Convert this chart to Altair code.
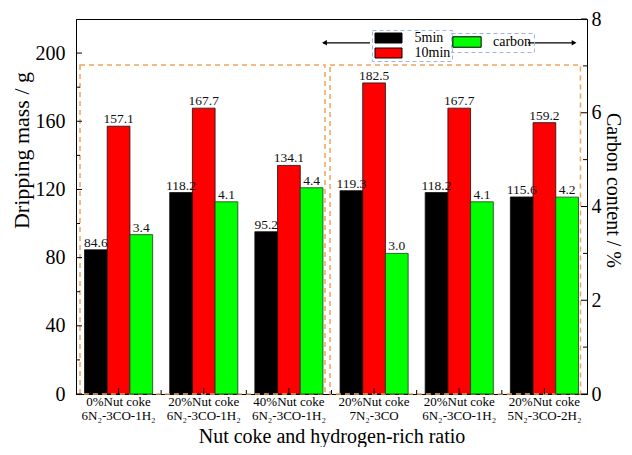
import altair as alt
import pandas as pd

# ---------------- data ----------------
groups = [0, 1, 2, 3, 4, 5]
label_line1 = ["0%Nut coke", "20%Nut coke", "40%Nut coke", "20%Nut coke", "20%Nut coke", "20%Nut coke"]
label_line2 = ["6N₂-3CO-1H₂", "6N₂-3CO-1H₂", "6N₂-3CO-1H₂", "7N₂-3CO", "6N₂-3CO-1H₂", "5N₂-3CO-2H₂"]
mass_5min = [84.6, 118.2, 95.2, 119.3, 118.2, 115.6]
mass_10min = [157.1, 167.7, 134.1, 182.5, 167.7, 159.2]
carbon = [3.4, 4.1, 4.4, 3.0, 4.1, 4.2]
series = ["5min", "10min", "carbon"]
colors = ["#000000", "#ff0000", "#00ff00"]
left_major = [0, 40, 80, 120, 160, 200]
left_minor = [20, 60, 100, 140, 180]
right_major = [0, 2, 4, 6, 8]
right_minor = [1, 3, 5, 7]
left_domain = [0, 220]
right_domain = [0, 8]
box_top = 193          # top of the dashed orange frames (left-axis units)
arrow_level = 206      # height of the legend arrows (left-axis units)

FONT = "Liberation Serif"
W, H = 511, 375

mass_df = pd.DataFrame({
    "g": groups * 2,
    "series": ["5min"] * 6 + ["10min"] * 6,
    "value": mass_5min + mass_10min,
})
carbon_df = pd.DataFrame({"g": groups, "series": ["carbon"] * 6, "value": carbon})

label_expr = "[" + ",".join(f"['{a}','{b}']" for a, b in zip(label_line1, label_line2)) + "][datum.value]"

xs = alt.Scale(domain=groups, paddingInner=0.2, paddingOuter=0.1)
ys_left = alt.Scale(domain=left_domain, nice=False, zero=True)
ys_right = alt.Scale(domain=right_domain, nice=False, zero=True)
xo = alt.XOffset("series:N", scale=alt.Scale(domain=series, paddingInner=0, paddingOuter=0))

rect_path = "M-2.7,-1H2.7V1H-2.7Z"

x_axis = alt.Axis(
    labelExpr=label_expr, title="Nut coke and hydrogen-rich ratio", ticks=False, tickSize=0,
    labelFont=FONT, titleFont=FONT,
    labelFontSize=13, labelLineHeight=14, labelPadding=1, labelAngle=0, labelBaseline="top",
    titleFontSize=20, titleY=48, titleBaseline="alphabetic",
)
left_axis = alt.Axis(
    values=left_major, title="Dripping mass / g", ticks=False, tickSize=0,
    labelFont=FONT, titleFont=FONT,
    labelFontSize=20, labelPadding=11, titleFontSize=22,
    titleX=-48, titleY=131, titleBaseline="alphabetic",
)
right_axis = alt.Axis(
    orient="right", values=right_major, title="Carbon content / %", ticks=False, tickSize=0,
    labelFont=FONT, titleFont=FONT,
    labelFontSize=20, labelPadding=4, titleFontSize=20, titleAngle=90,
    titleX=19, titleY=171, titleBaseline="alphabetic",
)


def XL(field, **kw):
    return alt.X(field, scale=xs, axis=x_axis, **kw)


def YL(field):
    return alt.Y(field, scale=ys_left, axis=left_axis)


def YR(field):
    return alt.Y(field, scale=ys_right, axis=right_axis)


# ---------------- left (mass) layers ----------------
mass_bars = alt.Chart(mass_df).mark_bar(stroke="#111111", strokeWidth=0.8).encode(
    x=XL("g:O"),
    xOffset=xo,
    y=YL("value:Q"),
    color=alt.Color("series:N", scale=alt.Scale(domain=series[:2], range=colors[:2]),
                    legend=alt.Legend(title=None, orient="none", legendX=296, legendY=11,
                                      strokeColor="#9fb4e0", symbolType=rect_path, symbolSize=100,
                                      symbolOffset=8.5, labelOffset=19, padding=1, rowPadding=1,
                                      labelFontSize=14)),
)
mass_text = alt.Chart(mass_df).mark_text(font=FONT, fontSize=13.5, baseline="alphabetic", dy=-3, color="#111").encode(
    x=XL("g:O"),
    xOffset=xo,
    y=YL("value:Q"),
    text=alt.Text("value:Q", format=".1f"),
)

frame_style = dict(fillOpacity=0, stroke="#f2a35a", strokeWidth=1.5, strokeDash=[5, 4])
box1 = alt.Chart(pd.DataFrame({"g0": [0], "g1": [2], "top": [box_top], "bot": [0]})).mark_rect(
    xOffset=-4.5, x2Offset=2, **frame_style).encode(
    x=XL("g0:O", bandPosition=0),
    x2=alt.X2("g1", bandPosition=1),
    y=YL("top:Q"),
    y2="bot:Q",
)
box2 = alt.Chart(pd.DataFrame({"g0": [3], "g1": [5], "top": [box_top], "bot": [0]})).mark_rect(
    xOffset=-10, x2Offset=2, **frame_style).encode(
    x=XL("g0:O", bandPosition=0),
    x2=alt.X2("g1", bandPosition=1),
    y=YL("top:Q"),
    y2="bot:Q",
)

arrow_l = alt.Chart(pd.DataFrame({"g0": [2], "g1": [3], "y": [arrow_level]})).mark_rule(color="black", strokeWidth=1.2).encode(
    x=XL("g0:O", bandPosition=1.0),
    x2=alt.X2("g1", bandPosition=0.44),
    y=YL("y:Q"),
)
head_l = alt.Chart(pd.DataFrame({"g0": [2], "y": [arrow_level]})).mark_point(
    shape="triangle-left", filled=True, color="black", size=30, opacity=1, xOffset=1.5).encode(
    x=XL("g0:O", bandPosition=1),
    y=YL("y:Q"),
)
arrow_r = alt.Chart(pd.DataFrame({"g0": [5], "g1": [5], "y": [arrow_level]})).mark_rule(color="black", strokeWidth=1.2).encode(
    x=XL("g0:O", bandPosition=0.258),
    x2=alt.X2("g1", bandPosition=0.95),
    y=YL("y:Q"),
)
head_r = alt.Chart(pd.DataFrame({"g0": [5], "y": [arrow_level]})).mark_point(
    shape="triangle-right", filled=True, color="black", size=30, opacity=1).encode(
    x=XL("g0:O", bandPosition=0.935),
    y=YL("y:Q"),
)

lt_major = alt.Chart(pd.DataFrame({"v": left_major})).mark_rule(color="black").encode(
    y=YL("v:Q"), x=alt.value(0), x2=alt.value(6))
lt_minor = alt.Chart(pd.DataFrame({"v": left_minor})).mark_rule(color="black").encode(
    y=YL("v:Q"), x=alt.value(0), x2=alt.value(4))
bt_major = alt.Chart(pd.DataFrame({"g": groups})).mark_rule(color="black").encode(
    x=XL("g:O", bandPosition=0.5), y=alt.value(H), y2=alt.value(H - 6))
bt_minor = alt.Chart(pd.DataFrame({"g": groups[:-1]})).mark_rule(color="black", xOffset=8.5).encode(
    x=XL("g:O", bandPosition=1), y=alt.value(H), y2=alt.value(H - 4))

left = alt.layer(mass_bars, mass_text, box1, box2, arrow_l, head_l, arrow_r, head_r,
                 lt_major, lt_minor, bt_major, bt_minor)

# ---------------- right (carbon) layers ----------------
carbon_bars = alt.Chart(carbon_df).mark_bar(stroke="#1a3a1a", strokeWidth=0.8).encode(
    x=XL("g:O"),
    xOffset=xo,
    y=YR("value:Q"),
    color=alt.Color("series:N", scale=alt.Scale(domain=series[2:], range=colors[2:]),
                    legend=alt.Legend(title=None, orient="none", legendX=375, legendY=14,
                                      strokeColor="#9fb4e0", symbolType=rect_path, symbolSize=110,
                                      symbolOffset=7, labelOffset=19, padding=2, labelFontSize=14)),
)
carbon_text = alt.Chart(carbon_df).mark_text(font=FONT, fontSize=13.5, baseline="alphabetic", dy=-3, color="#111").encode(
    x=XL("g:O"),
    xOffset=xo,
    y=YR("value:Q"),
    text=alt.Text("value:Q", format=".1f"),
)
rt_major = alt.Chart(pd.DataFrame({"v": right_major})).mark_rule(color="black").encode(
    y=YR("v:Q"), x=alt.value(W), x2=alt.value(W - 6))
rt_minor = alt.Chart(pd.DataFrame({"v": right_minor})).mark_rule(color="black").encode(
    y=YR("v:Q"), x=alt.value(W), x2=alt.value(W - 4))

right = alt.layer(carbon_bars, carbon_text, rt_major, rt_minor)

chart = (
    alt.layer(left, right)
    .resolve_scale(y="independent", color="independent")
    .properties(width=W, height=H, autosize=alt.AutoSizeParams(type="none"),
                padding={"left": 68, "top": 11, "right": 37, "bottom": 53})
    .configure_view(stroke="black", strokeWidth=1)
    .configure_axis(labelFont=FONT, titleFont=FONT, labelColor="black", titleColor="black",
                    domainColor="black", domainWidth=1, grid=False, titleFontWeight="normal")
    .configure_legend(labelFont=FONT, labelColor="black", strokeDash=[4, 3],
                      strokeWidth=1, symbolStrokeColor="black", symbolStrokeWidth=1, symbolOpacity=1)
)

chart.save("out.html", embed_options={"renderer": "svg", "actions": False})
